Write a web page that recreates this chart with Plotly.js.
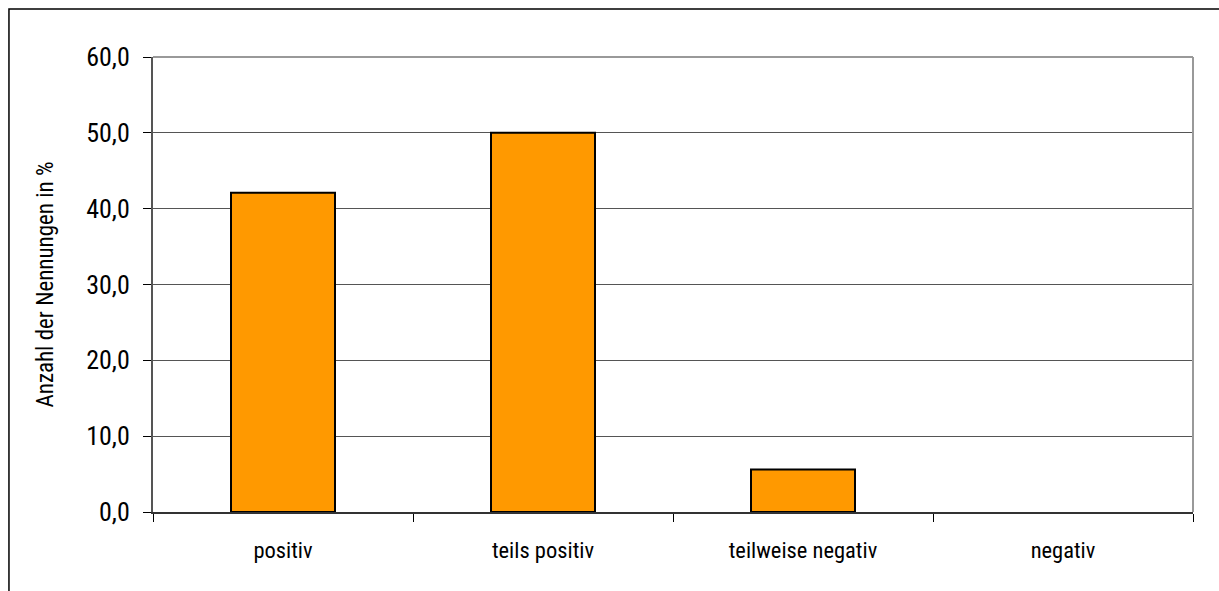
<!DOCTYPE html>
<html><head><meta charset="utf-8">
<script src="https://cdn.plot.ly/plotly-3.0.1.min.js"></script>
<style>html,body{margin:0;padding:0;background:#fff;}#chart{width:1219px;height:591px;}</style>
</head><body><div id="chart"></div>
<script>
const categories = ["positiv", "teils positiv", "teilweise negativ", "negativ"];
const values = [42.1, 50.0, 5.6, 0.0];
const tickValues = [0, 10, 20, 30, 40, 50, 60];
const yTitle = "Anzahl der Nennungen in %";

const fontFam = '"Roboto Condensed", "Liberation Sans Narrow", Roboto, sans-serif';

Plotly.newPlot('chart', [{
  type: 'bar',
  x: categories,
  y: values,
  width: 0.4,
  marker: {color: '#FF9900', line: {color: '#000000', width: [2, 2, 2, 0]}},
  hoverinfo: 'skip'
}], {
  width: 1219, height: 591,
  margin: {l: 153, r: 26, t: 57, b: 79},
  paper_bgcolor: '#ffffff', plot_bgcolor: '#ffffff',
  separators: ',.',
  showlegend: false,
  font: {family: fontFam, color: '#000', size: 20},
  xaxis: {
    type: 'category',
    tickson: 'boundaries',
    ticks: 'outside', ticklen: 8, tickcolor: '#000', tickwidth: 1,
    showline: true, linecolor: '#333', linewidth: 2,
    showgrid: false, zeroline: false,
    tickfont: {family: fontFam, size: 22.5},
    ticklabelstandoff: 17,
    range: [-0.5, 3.5]
  },
  yaxis: {
    range: [0, 60],
    tickvals: tickValues,
    tickformat: '.1f',
    ticks: 'outside', ticklen: 8, tickcolor: '#000', tickwidth: 1,
    showline: true, linecolor: '#555', linewidth: 2,
    showgrid: true, gridcolor: '#555', gridwidth: 1,
    zeroline: false,
    tickfont: {family: fontFam, size: 26},
    ticklabelstandoff: 8,
    title: {text: yTitle, font: {family: fontFam, size: 23}, standoff: 26}
  },
  shapes: [
    {type: 'line', xref: 'paper', yref: 'paper', x0: 0, x1: 1, y0: 1, y1: 1, line: {color: '#999', width: 2}},
    {type: 'line', xref: 'paper', yref: 'paper', x0: 1, x1: 1, y0: 0, y1: 1, line: {color: '#999', width: 2}},
    {type: 'rect', xref: 'paper', yref: 'paper', x0: -0.1385, x1: 1.2, y0: -0.3, y1: 1.1055, line: {color: '#000', width: 1.5}, fillcolor: 'rgba(0,0,0,0)'}
  ]
}, {staticPlot: true});
</script></body></html>
